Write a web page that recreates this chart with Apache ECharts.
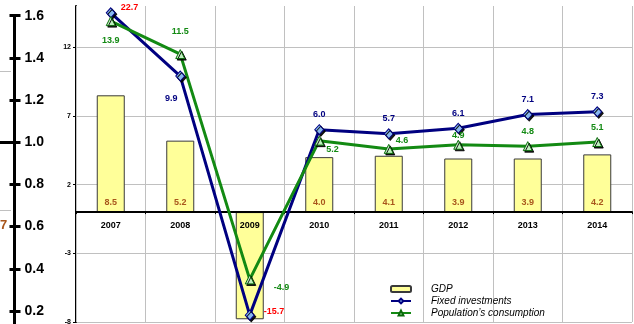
<!DOCTYPE html>
<html>
<head>
<meta charset="utf-8">
<title>GDP, fixed investments and consumption, 2007–2014</title>
<script src="https://cdn.jsdelivr.net/npm/echarts@6/dist/echarts.min.js"></script>
<style>
  html, body { margin: 0; padding: 0; background: #fff; }
  #chart { width: 634px; height: 324px; }
</style>
</head>
<body>
<div id="chart"></div>
<script>
// Annual growth, %
const years = ['2007', '2008', '2009', '2010', '2011', '2012', '2013', '2014'];
const gdp = [8.5, 5.2, -7.8, 4.0, 4.1, 3.9, 3.9, 4.2];
const fixedInvestments = [22.7, 9.9, -15.7, 6.0, 5.7, 6.1, 7.1, 7.3];
const consumption = [13.9, 11.5, -4.9, 5.2, 4.6, 4.9, 4.8, 5.1];

// Main value axis: labelled ticks and upper bound
const valueTicks = [-8, -3, 2, 7, 12];
const valueMax = 15;

// Side scale on the left edge
const sideTicks = [0.2, 0.4, 0.6, 0.8, 1.0, 1.2, 1.4, 1.6];

const FONT = '"Liberation Sans", Arial, sans-serif';
const BROWN = '#a8561c';
const NAVY = '#000080';
const GREEN = '#138a13';

const W = 634, H = 324;
const PLOT = { left: 76, right: 2, top: 6, bottom: 2 };
const plotHeight = H - PLOT.top - PLOT.bottom;

const yMin = valueTicks[0];
const yInterval = valueTicks[1] - valueTicks[0];
// category axis sits on the zero line
const zeroOffset = -((0 - yMin) / (valueMax - yMin)) * plotHeight;

// values beyond the axis are pinned just inside the plot area, their labels keep the real value
const EDGE_PAD = 0.5;
const pin = v => Math.max(yMin + EDGE_PAD, Math.min(valueMax - EDGE_PAD, v));
const outOfRange = v => v > valueMax || v < yMin;

// label placement per point
const fiLabelPlace = [
  { position: 'right', offset: [0, -5] },
  { position: 'bottom', offset: [-9, 7] },
  { position: 'right', offset: [4, -4] },
  { position: 'top' }, { position: 'top' }, { position: 'top' }, { position: 'top' }, { position: 'top' }
];
const consLabelPlace = [
  { position: 'bottom', offset: [0, 5] },
  { position: 'top', offset: [0, -8] },
  { position: 'right', offset: [14, 8] },
  { position: 'right', offset: [-3, 9] },
  { position: 'right', offset: [-3, -8] },
  { position: 'top', offset: [0, 5] },
  { position: 'top' }, { position: 'top' }
];

function lineData(values, places, color) {
  return values.map((v, i) => ({
    value: pin(v),
    label: Object.assign({
      formatter: () => v.toFixed(1),
      color: outOfRange(v) ? '#ff0000' : color
    }, places[i])
  }));
}

const labelBase = { show: true, fontFamily: FONT, fontSize: 9, fontWeight: 'bold' };

const sideMin = 0;
const sideInterval = sideTicks[1] - sideTicks[0];
const sideMax = sideTicks[sideTicks.length - 1];

const chart = echarts.init(document.getElementById('chart'), null, { renderer: 'canvas' });

chart.setOption({
  animation: false,
  backgroundColor: '#fff',
  textStyle: { fontFamily: FONT },
  grid: [
    {
      left: PLOT.left, right: PLOT.right, top: PLOT.top, bottom: PLOT.bottom,
      containLabel: false, outerBoundsMode: 'none'
    },
    { left: 14.5, top: 15.7, width: 1, height: 337.5, containLabel: false, outerBoundsMode: 'none' }
  ],
  legend: {
    orient: 'vertical',
    left: 384,
    top: 274,
    backgroundColor: '#fff',
    padding: [9, 48, 2, 6],
    itemWidth: 20,
    itemHeight: 6,
    itemGap: 0,
    data: ['GDP', 'Fixed investments', 'Population’s consumption'],
    textStyle: {
      fontFamily: FONT, fontSize: 10, fontStyle: 'italic', color: '#000',
      lineHeight: 12, padding: [0, 0, 0, 15]
    }
  },
  xAxis: [
    {
      gridIndex: 0,
      type: 'category',
      data: years,
      boundaryGap: true,
      position: 'bottom',
      offset: zeroOffset,
      z: 4,
      axisLine: { onZero: false, lineStyle: { color: '#000', width: 2 } },
      axisTick: { show: true, length: 2, lineStyle: { color: '#000', width: 1 } },
      axisLabel: { color: '#000', fontFamily: FONT, fontSize: 9, fontWeight: 'bold', margin: 9 },
      splitLine: { show: true, lineStyle: { color: '#c0c0c0', width: 1 } }
    },
    { gridIndex: 1, type: 'value', show: false }
  ],
  yAxis: [
    {
      gridIndex: 0,
      type: 'value',
      min: yMin,
      max: valueMax,
      interval: yInterval,
      axisLine: { show: true, lineStyle: { color: '#000', width: 2 } },
      axisTick: { show: true, length: 3, lineStyle: { color: '#000' } },
      axisLabel: {
        color: '#000', fontFamily: FONT, fontSize: 7, fontWeight: 'bold', margin: 5,
        showMaxLabel: false
      },
      splitLine: { show: true, showMaxLine: false, lineStyle: { color: '#c0c0c0', width: 1 } }
    },
    {
      gridIndex: 1,
      type: 'value',
      min: sideMin,
      max: sideMax,
      interval: sideInterval,
      position: 'left',
      axisLine: { show: true, lineStyle: { color: '#000', width: 3 } },
      axisTick: { show: true, length: 5, inside: false, lineStyle: { color: '#000', width: 3 } },
      axisLabel: {
        inside: true, margin: 10, color: '#000', fontFamily: FONT, fontSize: 14,
        fontWeight: 'bold', showMinLabel: false, formatter: v => v.toFixed(1)
      },
      splitLine: { show: false }
    },
    {
      gridIndex: 1,
      type: 'value',
      min: sideMin,
      max: sideMax,
      interval: sideInterval,
      position: 'left',
      axisLine: { show: false },
      axisTick: { show: true, length: 6, inside: true, lineStyle: { color: '#000', width: 3 } },
      axisLabel: { show: false },
      splitLine: { show: false }
    }
  ],
  series: [
    {
      name: 'GDP',
      type: 'bar',
      xAxisIndex: 0,
      yAxisIndex: 0,
      z: 2,
      barWidth: 28,
      data: gdp,
      itemStyle: { color: '#ffff99', borderColor: '#3a3a3a', borderWidth: 1 },
      label: Object.assign({}, labelBase, {
        position: 'insideBottom',
        distance: 5,
        color: BROWN,
        formatter: p => (p.value >= 0 ? p.value.toFixed(1) : '')
      })
    },
    {
      name: 'Fixed investments',
      type: 'line',
      xAxisIndex: 0,
      yAxisIndex: 0,
      z: 5,
      data: lineData(fixedInvestments, fiLabelPlace, NAVY),
      symbol: 'diamond',
      symbolSize: [9, 10],
      lineStyle: { color: NAVY, width: 3 },
      itemStyle: {
        color: '#88b8f0', borderColor: NAVY, borderWidth: 1,
        shadowColor: 'rgba(0,0,0,0.9)', shadowOffsetX: 1.5, shadowOffsetY: 1.5, shadowBlur: 0
      },
      label: Object.assign({}, labelBase)
    },
    {
      name: 'Population’s consumption',
      type: 'line',
      xAxisIndex: 0,
      yAxisIndex: 0,
      z: 5,
      data: lineData(consumption, consLabelPlace, GREEN),
      symbol: 'triangle',
      symbolSize: 9,
      lineStyle: { color: GREEN, width: 3 },
      itemStyle: {
        color: '#bff0bf', borderColor: '#0a6a0a', borderWidth: 1,
        shadowColor: 'rgba(0,0,0,0.9)', shadowOffsetX: 1.5, shadowOffsetY: 1.5, shadowBlur: 0
      },
      label: Object.assign({}, labelBase)
    }
  ],
  graphic: [
    // fragments of the neighbouring scale at the left edge
    { type: 'line', shape: { x1: 0, y1: 142.5, x2: 14, y2: 142.5 }, style: { stroke: '#000', lineWidth: 3 }, silent: true },
    { type: 'line', shape: { x1: 0, y1: 71.5, x2: 11, y2: 71.5 }, style: { stroke: '#c0c0c0', lineWidth: 1 }, silent: true },
    { type: 'line', shape: { x1: 0, y1: 210.5, x2: 11, y2: 210.5 }, style: { stroke: '#c0c0c0', lineWidth: 1 }, silent: true },
    {
      type: 'text', left: 0, top: 219, silent: true,
      style: { text: '7', fill: BROWN, font: 'bold 13px "Liberation Sans", Arial, sans-serif' }
    }
  ]
});
</script>
</body>
</html>
